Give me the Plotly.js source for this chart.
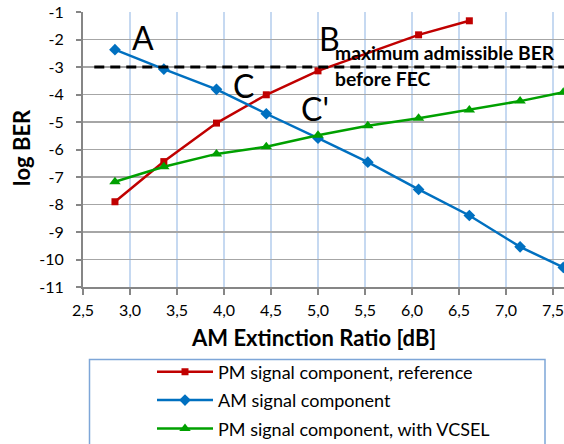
<!DOCTYPE html>
<html>
<head>
<meta charset="utf-8">
<script src="https://cdn.plot.ly/plotly-3.0.1.min.js"></script>
<style>html,body{margin:0;padding:0;background:#fff;}#chart{width:564px;height:444px;}</style>
</head>
<body>
<div id="chart"></div>
<script>
// ---- data ----
const extRatio = [2.84, 3.36, 3.92, 4.45, 5.00, 5.53, 6.07, 6.61, 7.15, 7.61];
const extRatioRef = [2.84, 3.36, 3.92, 4.45, 5.00, 6.07, 6.61];
const pmReference = [-7.90, -6.44, -5.04, -4.01, -3.14, -1.83, -1.32];
const amComponent = [-2.37, -3.08, -3.81, -4.70, -5.59, -6.46, -7.45, -8.40, -9.54, -10.29];
const pmVcsel = [-7.17, -6.63, -6.16, -5.90, -5.48, -5.14, -4.86, -4.56, -4.24, -3.92];
const fecX = [2.62, 7.7];
const fecY = [-3, -3];
const seriesNames = ["PM signal component, reference", "AM signal component", "PM signal component, with VCSEL"];
const xTickVals = [2.5, 3.0, 3.5, 4.0, 4.5, 5.0, 5.5, 6.0, 6.5, 7.0, 7.5];
const xTickText = ["2,5", "3,0", "3,5", "4,0", "4,5", "5,0", "5,5", "6,0", "6,5", "7,0", "7,5"];
const yTickVals = [-1, -2, -3, -4, -5, -6, -7, -8, -9, -10, -11];
const yTickText = ["-1", "-2", "-3", "-4", "-5", "-6", "-7", "-8", "-9", "-10", "-11"];
const labels = [
  {text: "A", x: 3.14, y: -1.93},
  {text: "B", x: 5.117, y: -1.97},
  {text: "C", x: 4.21, y: -3.69},
  {text: "C'", x: 4.97, y: -4.51}
];
const fecText1 = "maximum admissible BER";
const fecText2 = "before FEC";

const FONT = "Lato, 'Open Sans', sans-serif";
const W = 564, H = 444, ML = 83, MR = 0, MT = 12, MB = 157;
const pw = W - ML - MR, ph = H - MT - MB;
const px2paperX = p => (p - ML) / pw;
const py2paperY = p => (H - MB - p) / ph;

const traces = [
  {x: extRatioRef, y: pmReference, name: seriesNames[0], mode: "lines+markers", legendgroup: "a",
   line: {color: "#c00000", width: 2.5}, marker: {symbol: "square", size: 7, color: "#c00000"}},
  {x: extRatio, y: amComponent, name: seriesNames[1], mode: "lines+markers", legendgroup: "b",
   line: {color: "#0070c0", width: 2.5}, marker: {symbol: "diamond", size: 9, color: "#0070c0"}},
  {x: extRatio, y: pmVcsel, name: seriesNames[2], mode: "lines+markers", legendgroup: "c",
   line: {color: "#00a000", width: 2.5}, marker: {symbol: "triangle-up", size: 10, color: "#00a000"}},
  {x: fecX, y: fecY, mode: "lines", showlegend: false, hoverinfo: "skip",
   line: {color: "#000000", width: 3, dash: "10px,6px"}}
];

const annotations = labels.map(l => ({
  text: l.text, x: l.x, y: l.y, xref: "x", yref: "y", showarrow: false,
  font: {family: FONT, size: 32, color: "#000"}, xanchor: "center", yanchor: "middle"
}));
annotations.push({text: "<b>" + fecText1 + "</b>", x: 5.155, y: -2.48, xref: "x", yref: "y", showarrow: false,
  xanchor: "left", yanchor: "middle", font: {family: FONT, size: 19.3, color: "#000"}});
annotations.push({text: "<b>" + fecText2 + "</b>", x: 5.155, y: -3.40, xref: "x", yref: "y", showarrow: false,
  xanchor: "left", yanchor: "middle", font: {family: FONT, size: 19.3, color: "#000"}});
annotations.push({text: "<b>AM Extinction Ratio [dB]</b>", x: px2paperX(313), y: py2paperY(337),
  xref: "paper", yref: "paper", showarrow: false, xanchor: "center", yanchor: "middle",
  font: {family: FONT, size: 22, color: "#000"}});
annotations.push({text: "<b>log BER</b>", x: px2paperX(21), y: py2paperY(148), textangle: -90,
  xref: "paper", yref: "paper", showarrow: false, xanchor: "center", yanchor: "middle",
  font: {family: FONT, size: 22, color: "#000"}});

const layout = {
  width: W, height: H,
  margin: {l: ML, r: MR, t: MT, b: MB, pad: 0, autoexpand: false},
  paper_bgcolor: "#fff", plot_bgcolor: "#fff",
  font: {family: FONT, size: 16, color: "#000"},
  showlegend: true,
  legend: {x: px2paperX(152), xref: "paper", y: 1 - 353.5 / H, yref: "container", xanchor: "left", yanchor: "top",
    bgcolor: "rgba(0,0,0,0)", borderwidth: 0, itemwidth: 56, traceorder: "grouped", tracegroupgap: 2,
    font: {family: FONT, size: 18, color: "#000"}},
  xaxis: {range: [2.5, 2.5 + pw / 94], tickmode: "array", tickvals: xTickVals, ticktext: xTickText,
    showgrid: true, gridcolor: "#c6d9f1", gridwidth: 1.5, zeroline: false, automargin: false,
    showline: true, linecolor: "#868686", linewidth: 2, ticks: "outside", ticklen: 6, tickwidth: 2, tickcolor: "#868686",
    ticklabelstandoff: 2, ticklabeloverflow: "allow", tickfont: {family: FONT, size: 16}, fixedrange: true},
  yaxis: {range: [-11, -1], tickmode: "array", tickvals: yTickVals, ticktext: yTickText,
    showgrid: true, gridcolor: "#a6a6a6", gridwidth: 1.5, zeroline: false, automargin: false,
    showline: true, linecolor: "#868686", linewidth: 2, ticks: "outside", ticklen: 5, tickwidth: 2, tickcolor: "#868686",
    ticklabelstandoff: 9, ticklabeloverflow: "allow", tickfont: {family: FONT, size: 16}, fixedrange: true},
  shapes: [{type: "rect", xref: "paper", yref: "paper",
    x0: px2paperX(89.5), x1: px2paperX(545), y0: py2paperY(450), y1: py2paperY(359.5),
    line: {color: "#7ea6d8", width: 1.5}, fillcolor: "rgba(0,0,0,0)", layer: "above"}],
  annotations: annotations
};

Plotly.newPlot("chart", traces, layout, {staticPlot: true, displayModeBar: false});
</script>
</body>
</html>
